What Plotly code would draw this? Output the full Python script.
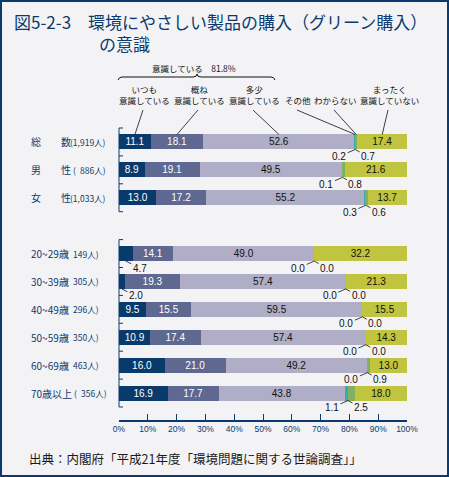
import plotly.graph_objects as go

# ---------------- data ----------------
categories = ["総　　数", "男　　性", "女　　性", "20~29歳", "30~39歳",
              "40~49歳", "50~59歳", "60~69歳", "70歳以上"]
counts = ["(1,919人)", "(\u2002886人)", "(1,033人)", "(\u2002149人)", "(\u2002305人)",
          "(\u2002296人)", "(\u2002350人)", "(\u2002463人)", "(\u2002356人)"]
series_names = ["いつも<br>意識している", "概ね<br>意識している", "多少<br>意識している",
                "その他", "わからない", "まったく<br>意識していない"]
always = [11.1, 8.9, 13.0, 4.7, 2.0, 9.5, 10.9, 16.0, 16.9]
mostly = [18.1, 19.1, 17.2, 14.1, 19.3, 15.5, 17.4, 21.0, 17.7]
somewhat = [52.6, 49.5, 55.2, 49.0, 57.4, 59.5, 57.4, 49.2, 43.8]
other = [0.2, 0.1, 0.3, 0.0, 0.0, 0.0, 0.0, 0.0, 1.1]
unknown = [0.7, 0.8, 0.6, 0.0, 0.0, 0.0, 0.0, 0.9, 2.5]
never = [17.4, 21.6, 13.7, 32.2, 21.3, 15.5, 14.3, 13.0, 18.0]
x_ticks = [0, 10, 20, 30, 40, 50, 60, 70, 80, 90, 100]
x_ticktext = [f"{t}%" for t in x_ticks]
title_line1 = "図5-2-3　環境にやさしい製品の購入（グリーン購入）"
title_line2 = "の意識"
source_text = "出典：内閣府「平成21年度「環境問題に関する世論調査」」"

# ---------------- styles ----------------
W, H = 449, 477
PL, PW, PT, PH = 119, 288, 128, 292
Y0, Y1 = -0.5, 9.966
NAVY = "#0b3b6e"
BG = "#f3f3f6"
colors = ["#0a3a6b", "#5e6890", "#b0aec6", "#3aa9b4", "#80b060", "#c0c43e"]
txtcolors = ["white", "white", "#111111", "#111111", "#111111", "#111111"]
NUMFONT = "Liberation Sans Narrow, Liberation Sans, Arial, sans-serif"
JPFONT = "Noto Sans CJK JP, sans-serif"
MIXFONT = "Liberation Sans Narrow, Noto Sans CJK JP, sans-serif"
BARW = 0.54

rows = [i if i < 3 else i + 1 for i in range(len(categories))]
series = [always, mostly, somewhat, other, unknown, never]


def PX(px):
    return (px - PL) / PW


def PY(py):
    return 1 - (py - PT) / PH


def dx2px(v):
    return PL + v / 100 * PW


def dy2py(y):
    return PT + (y - Y0) / (Y1 - Y0) * PH


fig = go.Figure()
for name, vals, c, tc in zip(series_names, series, colors, txtcolors):
    fig.add_trace(go.Bar(
        orientation="h", x=vals, y=rows, name=name.replace("<br>", ""),
        marker=dict(color=c, line=dict(width=0)), width=BARW,
        text=[f"{v:.1f}" if v >= 5 else "" for v in vals],
        textposition="inside", insidetextanchor="middle", textangle=0,
        textfont=dict(color=tc, size=10, family=NUMFONT),
        hoverinfo="skip", showlegend=False,
    ))

shapes = []
annotations = []

# left bracket axes (two groups)
for g0, g1 in [(-0.5, 2.5), (3.5, 9.5)]:
    shapes.append(dict(type="line", xref="paper", yref="paper",
                       x0=PX(dx2px(0)), x1=PX(dx2px(0)),
                       y0=PY(dy2py(g0)), y1=PY(dy2py(g1)),
                       line=dict(color=NAVY, width=1)))
    b = g0
    while b <= g1 + 1e-9:
        shapes.append(dict(type="line", xref="paper", yref="paper",
                           x0=PX(dx2px(0)), x1=PX(dx2px(0) + 4),
                           y0=PY(dy2py(b)), y1=PY(dy2py(b)),
                           line=dict(color=NAVY, width=1)))
        b += 1

# row labels
for i, (cat, cnt) in enumerate(zip(categories, counts)):
    r = rows[i]
    yy = PY(dy2py(r))
    annotations.append(dict(xref="paper", yref="paper", x=PX(29), y=yy,
                            text=cat, showarrow=False, xanchor="left", yanchor="middle",
                            font=dict(size=10, color=NAVY, family=MIXFONT)))
    redge = 108 if i < 3 else (109 if i == len(categories) - 1 else 101)
    annotations.append(dict(xref="paper", yref="paper", x=PX(redge), y=yy,
                            text=cnt, showarrow=False, xanchor="right", yanchor="middle",
                            font=dict(size=8.5, color=NAVY, family=MIXFONT)))

# outside small-value labels
small_font = dict(size=10, color="#111111", family=NUMFONT)
for i in range(len(categories)):
    r = rows[i]
    bottom = r + BARW / 2
    if always[i] < 5:
        annotations.append(dict(x=always[i] / 2, y=bottom, xref="x", yref="y",
                                text=f"{always[i]:.1f}", showarrow=True, arrowhead=0,
                                arrowwidth=0.8, arrowcolor="#111111", ax=14, ay=7,
                                font=small_font))
    apex = always[i] + mostly[i] + somewhat[i] + other[i]
    annotations.append(dict(x=apex, y=bottom, xref="x", yref="y",
                            text=f"{other[i]:.1f}", showarrow=True, arrowhead=0,
                            arrowwidth=0.8, arrowcolor="#111111", ax=-16, ay=7,
                            font=small_font))
    annotations.append(dict(x=apex, y=bottom, xref="x", yref="y",
                            text=f"{unknown[i]:.1f}", showarrow=True, arrowhead=0,
                            arrowwidth=0.8, arrowcolor="#111111", ax=13, ay=7,
                            font=small_font))

# header labels with leader lines to the first row
label_px = [144, 199, 254, 298, 335, 389]
top_py = dy2py(rows[0] - BARW / 2)
cum = 0
for k, (name, vals) in enumerate(zip(series_names, series)):
    center = cum + vals[0] / 2
    cum += vals[0]
    annotations.append(dict(xref="paper", yref="paper", x=PX(label_px[k]), y=PY(108),
                            text=name, showarrow=False, xanchor="center", yanchor="bottom",
                            font=dict(size=8.5, color="#111111", family=JPFONT)))
    shapes.append(dict(type="line", xref="paper", yref="paper",
                       x0=PX(label_px[k] - 1), y0=PY(110),
                       x1=PX(dx2px(center)), y1=PY(top_py),
                       line=dict(color="#111111", width=0.8)))

# brace for "意識している"
aware = round(always[0] + mostly[0] + somewhat[0], 1)
xl, xr, xm = 118, 275, 197
path = (f"M {PX(xl)},{PY(80)} Q {PX(xl+1)},{PY(77)} {PX(xl+4)},{PY(77)} "
        f"L {PX(xm-4)},{PY(77)} Q {PX(xm)},{PY(77)} {PX(xm)},{PY(74)} "
        f"Q {PX(xm)},{PY(77)} {PX(xm+4)},{PY(77)} L {PX(xr-4)},{PY(77)} "
        f"Q {PX(xr-1)},{PY(77)} {PX(xr)},{PY(80)}")
shapes.append(dict(type="path", xref="paper", yref="paper", path=path,
                   line=dict(color="#111111", width=1)))
annotations.append(dict(xref="paper", yref="paper", x=PX(194), y=PY(68),
                        text=f"意識している　{aware}%", showarrow=False,
                        xanchor="center", yanchor="middle",
                        font=dict(size=8.5, color="#111111", family=JPFONT)))

# title (two lines, second indented) and source
annotations.append(dict(xref="paper", yref="paper", x=PX(12), y=PY(32),
                        text=title_line1 + "<br>" + "　" * 5 + title_line2,
                        showarrow=False, xanchor="left", yanchor="middle", align="left",
                        font=dict(size=17, color=NAVY, family=JPFONT)))
annotations.append(dict(xref="paper", yref="paper", x=PX(27), y=PY(458),
                        text=source_text, showarrow=False, xanchor="left", yanchor="middle",
                        font=dict(size=12.5, color="#1a1a1a", family=JPFONT)))

# frame
shapes.append(dict(type="rect", xref="paper", yref="paper",
                   x0=PX(1), x1=PX(448), y0=PY(1), y1=PY(476),
                   line=dict(color=NAVY, width=2)))

fig.update_layout(
    width=W, height=H, barmode="stack",
    margin=dict(l=PL, r=W - PL - PW, t=PT, b=H - PT - PH),
    paper_bgcolor=BG, plot_bgcolor=BG,
    uniformtext=dict(minsize=10, mode="show"),
    xaxis=dict(range=[0, 100], tickmode="array", tickvals=x_ticks, ticktext=x_ticktext,
               showgrid=False, zeroline=False, showline=True, linecolor=NAVY,
               linewidth=1.5, ticks="inside", ticklen=6, tickcolor=NAVY, tickwidth=1.2,
               tickfont=dict(size=8.5, color=NAVY, family=NUMFONT), fixedrange=True),
    yaxis=dict(range=[Y1, Y0], showticklabels=False, showgrid=False, zeroline=False,
               showline=False, ticks="", fixedrange=True),
    shapes=shapes, annotations=annotations,
)

fig.write_html("out.html", config={"displayModeBar": False},
               post_script="document.body.style.margin='0';document.body.style.overflow='hidden';")
